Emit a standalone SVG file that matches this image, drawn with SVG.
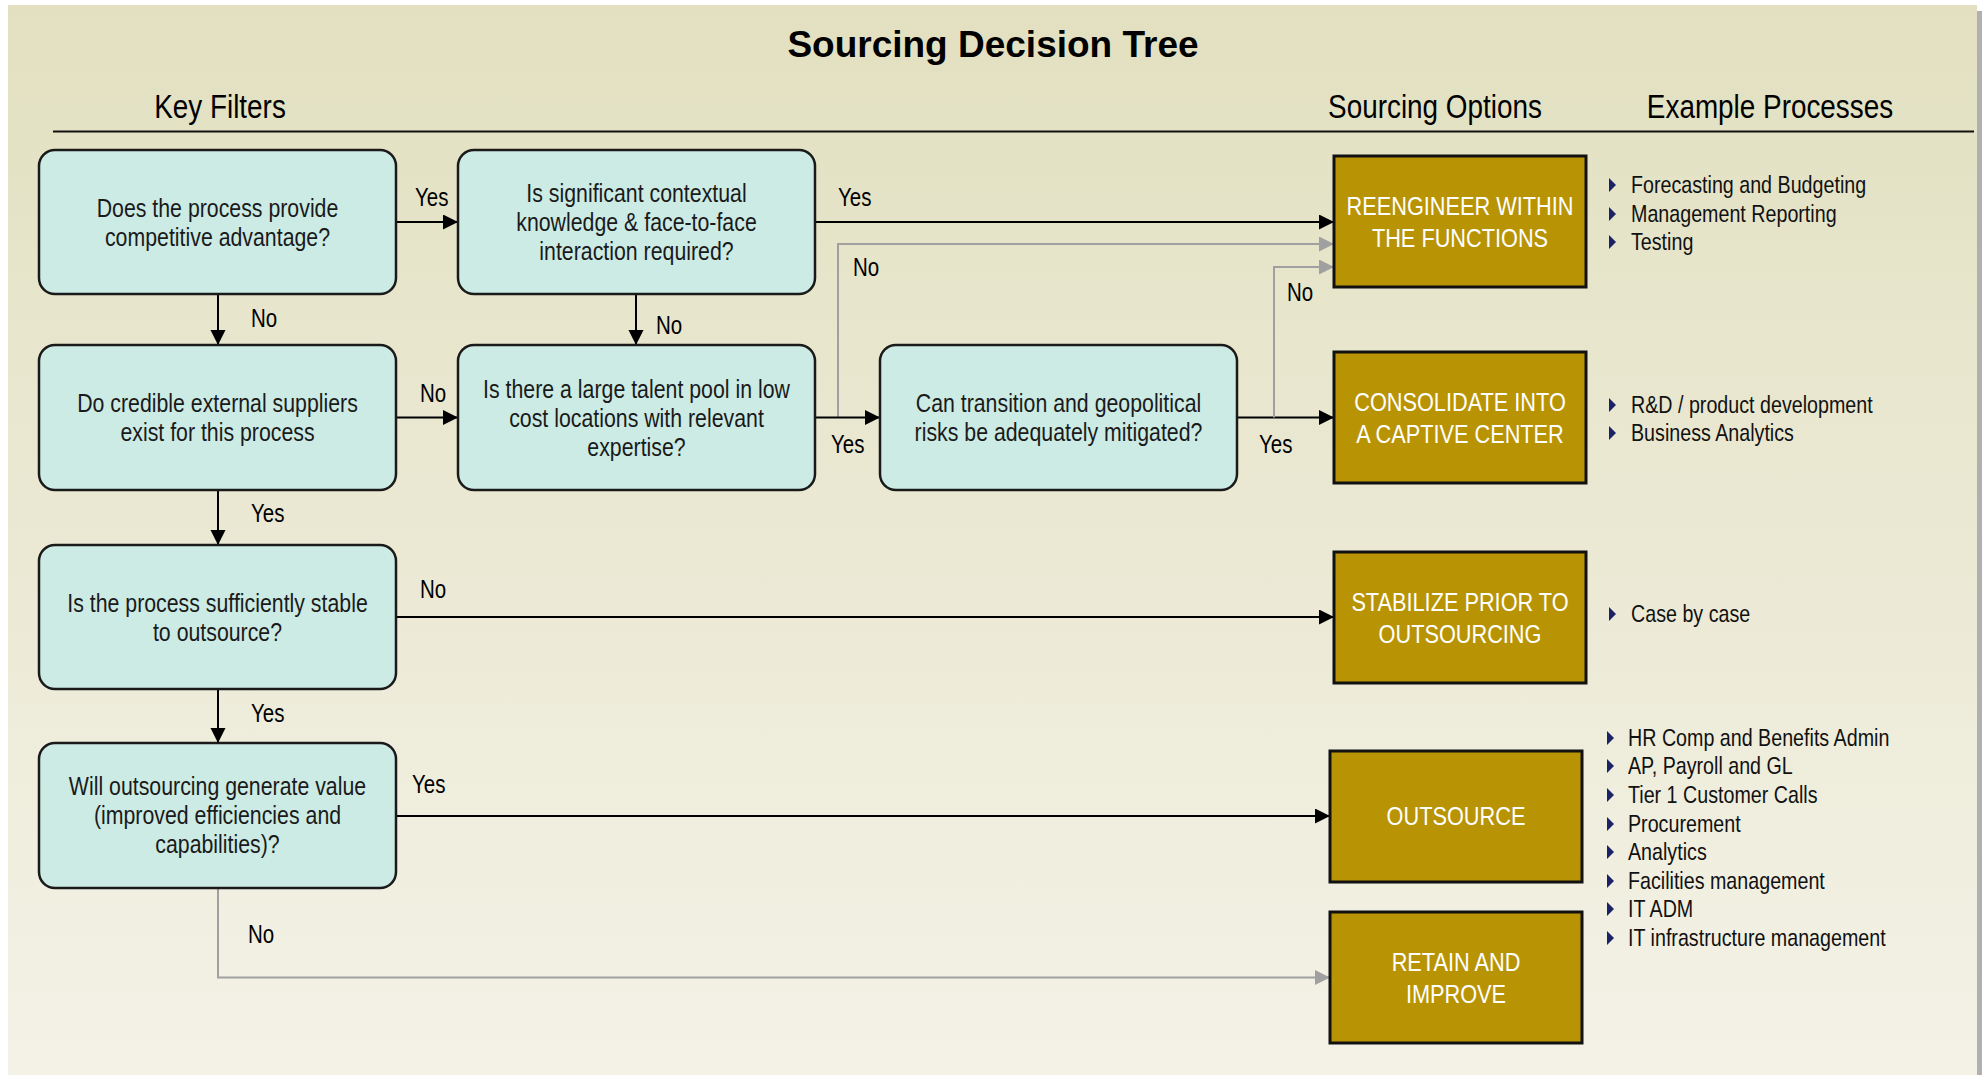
<svg xmlns="http://www.w3.org/2000/svg" width="1988" height="1075" viewBox="0 0 1988 1075">
  <defs>
    <linearGradient id="bg" x1="0" y1="0" x2="0" y2="1">
      <stop offset="0" stop-color="#E2E0C0"/>
      <stop offset="1" stop-color="#F4F2E7"/>
    </linearGradient>
    <marker id="arrowBlack" markerUnits="userSpaceOnUse" markerWidth="16" markerHeight="16" refX="15" refY="7.5" orient="auto">
      <path d="M0,0 L15,7.5 L0,15 z" fill="#000"/>
    </marker>
    <marker id="arrowGray" markerUnits="userSpaceOnUse" markerWidth="16" markerHeight="16" refX="15" refY="7.5" orient="auto">
      <path d="M0,0 L15,7.5 L0,15 z" fill="#A0A0A0"/>
    </marker>
  </defs>
  <style>
    /* condensed text: Arial metrics squeezed to Arial Narrow proportions via scale(0.82 1) */
    text { font-family: "Liberation Sans", Arial, sans-serif; }
    .title { font-weight: bold; font-size: 37px; fill: #000; }
    .hdr { font-size: 34px; fill: #000; text-anchor: middle; }
    .q { fill: #CCEBE5; stroke: #1A1A1A; stroke-width: 2.5; }
    .qt { font-size: 26px; fill: #1A1A1A; text-anchor: middle; }
    .opt { fill: #B89405; stroke: #111; stroke-width: 3; }
    .ot { font-size: 26.5px; fill: #FFFFFF; text-anchor: middle; }
    .lbl { font-size: 25px; fill: #000; }
    .li { font-size: 24px; fill: #111; }
    .bul { fill: #1B2366; }
    .cb { fill: none; stroke: #000; stroke-width: 2; marker-end: url(#arrowBlack); }
    .cg { fill: none; stroke: #A0A0A0; stroke-width: 2; marker-end: url(#arrowGray); }
  </style>

  <!-- page -->
  <rect x="0" y="0" width="1988" height="1075" fill="#FFFFFF"/>
  <rect x="1977" y="11" width="5" height="1064" fill="#B0B0B0"/>
  <rect x="8" y="5" width="1969" height="1070" fill="url(#bg)"/>

  <!-- headings -->
  <text class="title" x="993" y="57" text-anchor="middle">Sourcing Decision Tree</text>
  <text class="hdr" transform="translate(220 118) scale(0.82 1)">Key Filters</text>
  <text class="hdr" transform="translate(1435 118) scale(0.82 1)">Sourcing Options</text>
  <text class="hdr" transform="translate(1770 118) scale(0.82 1)">Example Processes</text>
  <line x1="53" y1="131.5" x2="1974" y2="131.5" stroke="#111" stroke-width="2"/>

  <!-- connectors -->
  <g id="connectors">
    <path class="cb" d="M397,222 H458"/>
    <path class="cb" d="M218,294 V345"/>
    <path class="cb" d="M636,294 V345"/>
    <path class="cb" d="M397,417.5 H458"/>
    <path class="cb" d="M218,490 V545"/>
    <path class="cb" d="M397,617 H1334"/>
    <path class="cb" d="M218,689 V743"/>
    <path class="cb" d="M397,816 H1330"/>
    <path class="cg" d="M218,888 V977.5 H1330"/>
    <path class="cb" d="M815,222 H1334"/>
    <path class="cg" d="M838,417.5 V244 H1334"/>
    <path class="cb" d="M815,417.5 H880"/>
    <path class="cb" d="M1237,417.5 H1334"/>
    <path class="cg" d="M1274,417.5 V267 H1334"/>

    <g class="lbl">
      <text transform="translate(415 206) scale(0.82 1)">Yes</text>
      <text transform="translate(251 327) scale(0.82 1)">No</text>
      <text transform="translate(656 334) scale(0.82 1)">No</text>
      <text transform="translate(420 402) scale(0.82 1)">No</text>
      <text transform="translate(251 522) scale(0.82 1)">Yes</text>
      <text transform="translate(420 598) scale(0.82 1)">No</text>
      <text transform="translate(251 722) scale(0.82 1)">Yes</text>
      <text transform="translate(412 793) scale(0.82 1)">Yes</text>
      <text transform="translate(248 943) scale(0.82 1)">No</text>
      <text transform="translate(838 206) scale(0.82 1)">Yes</text>
      <text transform="translate(853 276) scale(0.82 1)">No</text>
      <text transform="translate(831 453) scale(0.82 1)">Yes</text>
      <text transform="translate(1259 453) scale(0.82 1)">Yes</text>
      <text transform="translate(1287 301) scale(0.82 1)">No</text>
    </g>
  </g>

  <!-- key filter questions -->
  <g id="q-advantage">
    <rect class="q" x="39" y="150" width="357" height="144" rx="16"/>
    <g transform="translate(217.5 0) scale(0.82 1)">
      <text class="qt" x="0" y="217">Does the process provide</text>
      <text class="qt" x="0" y="246">competitive advantage?</text>
    </g>
  </g>
  <g id="q-context">
    <rect class="q" x="458" y="150" width="357" height="144" rx="16"/>
    <g transform="translate(636.5 0) scale(0.82 1)">
      <text class="qt" x="0" y="202">Is significant contextual</text>
      <text class="qt" x="0" y="231">knowledge &amp; face-to-face</text>
      <text class="qt" x="0" y="260">interaction required?</text>
    </g>
  </g>
  <g id="q-suppliers">
    <rect class="q" x="39" y="345" width="357" height="145" rx="16"/>
    <g transform="translate(217.5 0) scale(0.82 1)">
      <text class="qt" x="0" y="412">Do credible external suppliers</text>
      <text class="qt" x="0" y="441">exist for this process</text>
    </g>
  </g>
  <g id="q-talent">
    <rect class="q" x="458" y="345" width="357" height="145" rx="16"/>
    <g transform="translate(636.5 0) scale(0.82 1)">
      <text class="qt" x="0" y="398">Is there a large talent pool in low</text>
      <text class="qt" x="0" y="427">cost locations with relevant</text>
      <text class="qt" x="0" y="456">expertise?</text>
    </g>
  </g>
  <g id="q-risks">
    <rect class="q" x="880" y="345" width="357" height="145" rx="16"/>
    <g transform="translate(1058.5 0) scale(0.82 1)">
      <text class="qt" x="0" y="412">Can transition and geopolitical</text>
      <text class="qt" x="0" y="441">risks be adequately mitigated?</text>
    </g>
  </g>
  <g id="q-stable">
    <rect class="q" x="39" y="545" width="357" height="144" rx="16"/>
    <g transform="translate(217.5 0) scale(0.82 1)">
      <text class="qt" x="0" y="612">Is the process sufficiently stable</text>
      <text class="qt" x="0" y="641">to outsource?</text>
    </g>
  </g>
  <g id="q-value">
    <rect class="q" x="39" y="743" width="357" height="145" rx="16"/>
    <g transform="translate(217.5 0) scale(0.82 1)">
      <text class="qt" x="0" y="795">Will outsourcing generate value</text>
      <text class="qt" x="0" y="824">(improved efficiencies and</text>
      <text class="qt" x="0" y="853">capabilities)?</text>
    </g>
  </g>

  <!-- sourcing options -->
  <g id="opt-reengineer">
    <rect class="opt" x="1334" y="156" width="252" height="131"/>
    <g transform="translate(1460 0) scale(0.82 1)">
      <text class="ot" x="0" y="215">REENGINEER WITHIN</text>
      <text class="ot" x="0" y="247">THE FUNCTIONS</text>
    </g>
  </g>
  <g id="opt-captive">
    <rect class="opt" x="1334" y="352" width="252" height="131"/>
    <g transform="translate(1460 0) scale(0.82 1)">
      <text class="ot" x="0" y="411">CONSOLIDATE INTO</text>
      <text class="ot" x="0" y="443">A CAPTIVE CENTER</text>
    </g>
  </g>
  <g id="opt-stabilize">
    <rect class="opt" x="1334" y="552" width="252" height="131"/>
    <g transform="translate(1460 0) scale(0.82 1)">
      <text class="ot" x="0" y="611">STABILIZE PRIOR TO</text>
      <text class="ot" x="0" y="643">OUTSOURCING</text>
    </g>
  </g>
  <g id="opt-outsource">
    <rect class="opt" x="1330" y="751" width="252" height="131"/>
    <g transform="translate(1456 0) scale(0.82 1)">
      <text class="ot" x="0" y="825">OUTSOURCE</text>
    </g>
  </g>
  <g id="opt-retain">
    <rect class="opt" x="1330" y="912" width="252" height="131"/>
    <g transform="translate(1456 0) scale(0.82 1)">
      <text class="ot" x="0" y="971">RETAIN AND</text>
      <text class="ot" x="0" y="1003">IMPROVE</text>
    </g>
  </g>

  <!-- example processes -->
  <g id="ex-reengineer">
    <path class="bul" d="M1609,178 L1616,185 L1609,192 z"/>
    <path class="bul" d="M1609,207 L1616,214 L1609,221 z"/>
    <path class="bul" d="M1609,235 L1616,242 L1609,249 z"/>
    <g transform="translate(1631 0) scale(0.82 1)">
      <text class="li" x="0" y="193">Forecasting and Budgeting</text>
      <text class="li" x="0" y="222">Management Reporting</text>
      <text class="li" x="0" y="250">Testing</text>
    </g>
  </g>
  <g id="ex-captive">
    <path class="bul" d="M1609,398 L1616,405 L1609,412 z"/>
    <path class="bul" d="M1609,426 L1616,433 L1609,440 z"/>
    <g transform="translate(1631 0) scale(0.82 1)">
      <text class="li" x="0" y="413">R&amp;D / product development</text>
      <text class="li" x="0" y="441">Business Analytics</text>
    </g>
  </g>
  <g id="ex-stabilize">
    <path class="bul" d="M1609,607 L1616,614 L1609,621 z"/>
    <g transform="translate(1631 0) scale(0.82 1)">
      <text class="li" x="0" y="622">Case by case</text>
    </g>
  </g>
  <g id="ex-outsource">
    <path class="bul" d="M1607,731 L1614,738 L1607,745 z"/>
    <path class="bul" d="M1607,759 L1614,766 L1607,773 z"/>
    <path class="bul" d="M1607,788 L1614,795 L1607,802 z"/>
    <path class="bul" d="M1607,817 L1614,824 L1607,831 z"/>
    <path class="bul" d="M1607,845 L1614,852 L1607,859 z"/>
    <path class="bul" d="M1607,874 L1614,881 L1607,888 z"/>
    <path class="bul" d="M1607,902 L1614,909 L1607,916 z"/>
    <path class="bul" d="M1607,931 L1614,938 L1607,945 z"/>
    <g transform="translate(1628 0) scale(0.82 1)">
      <text class="li" x="0" y="746">HR Comp and Benefits Admin</text>
      <text class="li" x="0" y="774">AP, Payroll and GL</text>
      <text class="li" x="0" y="803">Tier 1 Customer Calls</text>
      <text class="li" x="0" y="832">Procurement</text>
      <text class="li" x="0" y="860">Analytics</text>
      <text class="li" x="0" y="889">Facilities management</text>
      <text class="li" x="0" y="917">IT ADM</text>
      <text class="li" x="0" y="946">IT infrastructure management</text>
    </g>
  </g>
</svg>
